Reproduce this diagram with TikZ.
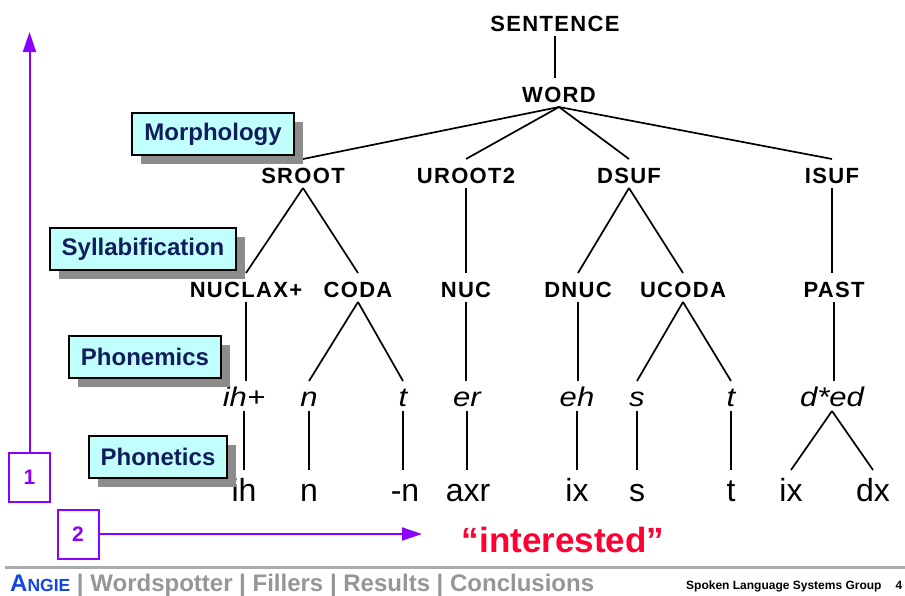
\documentclass[tikz,border=0pt]{standalone}
\usepackage{fontspec}
\setmainfont{Liberation Sans}
\newfontfamily\catfont[LetterSpace=6]{Liberation Sans}
\newfontfamily\phonemefont[FakeStretch=1.15]{Liberation Sans}
\usetikzlibrary{arrows.meta,shadows}

\definecolor{levelfill}{RGB}{192,255,252}
\definecolor{levelnavy}{RGB}{18,30,92}
\definecolor{shadowgray}{RGB}{140,140,140}
\definecolor{stepviolet}{RGB}{140,0,255}
\definecolor{wordred}{RGB}{255,0,51}
\definecolor{footgray}{RGB}{150,150,150}
\definecolor{angieblue}{RGB}{20,70,225}

\begin{document}
\begin{tikzpicture}[x=1pt,y=-1pt]

\tikzstyle{cat}=[font=\catfont\bfseries\fontsize{22}{22}\selectfont, inner sep=0pt, outer sep=5pt, text height=19pt, text depth=0pt, anchor=base]
\tikzstyle{phoneme}=[font=\phonemefont\itshape\fontsize{27}{27}\selectfont, inner sep=0pt, outer sep=5pt, text height=20pt, text depth=0pt, anchor=base]
\tikzstyle{phone}=[font=\fontsize{32}{32}\selectfont, inner sep=0pt, outer sep=5pt, text height=26pt, text depth=0pt, anchor=base]
\tikzstyle{branch}=[line width=1.7pt]
\tikzstyle{level}=[draw, line width=1.8pt, fill=levelfill, text=levelnavy, font=\bfseries\fontsize{24}{24}\selectfont, inner xsep=12pt, minimum height=42pt, drop shadow={shadow xshift=9pt, shadow yshift=-9pt, fill=shadowgray, opacity=1}]
\tikzstyle{stepbox}=[draw=stepviolet, line width=2pt, text=stepviolet, font=\bfseries\fontsize{21}{21}\selectfont, minimum width=41pt, minimum height=49pt]
\tikzstyle{steparrow}=[-{Triangle[length=20pt,width=13pt]}, line width=2pt, stepviolet]

\useasboundingbox (0,0) rectangle (905,595);

% categories
\node[cat] (sentence) at (555,31) {SENTENCE};
\node[cat] (word) at (559,102) {WORD};
\node[cat] (sroot) at (303,183) {SROOT};
\node[cat] (uroot) at (466,183) {UROOT2};
\node[cat] (dsuf) at (629,183) {DSUF};
\node[cat] (isuf) at (832,183) {ISUF};
\node[cat] (nuclax) at (246,297) {NUCLAX+};
\node[cat] (coda) at (358,297) {CODA};
\node[cat] (nuc) at (466,297) {NUC};
\node[cat] (dnuc) at (578,297) {DNUC};
\node[cat] (ucoda) at (683,297) {UCODA};
\node[cat] (past) at (834,297) {PAST};

% phonemes
\node[phoneme] (ihplus) at (244,406) {ih+};
\node[phoneme] (nph) at (309,406) {n};
\node[phoneme] (tph) at (403,406) {t};
\node[phoneme] (er) at (467,406) {er};
\node[phoneme] (eh) at (577,406) {eh};
\node[phoneme] (sph) at (637,406) {s};
\node[phoneme] (tsuf) at (731,406) {t};
\node[phoneme] (ded) at (832,406) {d*ed};

% phones
\node[phone] (ih) at (244,501) {ih};
\node[phone] (n) at (309,501) {n};
\node[phone] (nflap) at (405,501) {-n};
\node[phone] (axr) at (468,501) {axr};
\node[phone] (ix) at (577,501) {ix};
\node[phone] (s) at (637,501) {s};
\node[phone] (t) at (731,501) {t};
\node[phone] (ixpast) at (791,501) {ix};
\node[phone] (dx) at (873,501) {dx};

% branches
\draw[branch] (sentence.south) -- (sentence.south |- word.north);
\draw[branch] (word.south) -- (sroot.north);
\draw[branch] (word.south) -- (uroot.north);
\draw[branch] (word.south) -- (dsuf.north);
\draw[branch] (word.south) -- (isuf.north);
\draw[branch] (sroot.south) -- (nuclax.north);
\draw[branch] (sroot.south) -- (coda.north);
\draw[branch] (uroot.south) -- (uroot.south |- nuc.north);
\draw[branch] (dsuf.south) -- (dnuc.north);
\draw[branch] (dsuf.south) -- (ucoda.north);
\draw[branch] (isuf.south) -- (isuf.south |- past.north);
\draw[branch] (nuclax.south) -- (nuclax.south |- ihplus.north);
\draw[branch] (coda.south) -- (nph.north);
\draw[branch] (coda.south) -- (tph.north);
\draw[branch] (nuc.south) -- (nuc.south |- er.north);
\draw[branch] (dnuc.south) -- (dnuc.south |- eh.north);
\draw[branch] (ucoda.south) -- (sph.north);
\draw[branch] (ucoda.south) -- (tsuf.north);
\draw[branch] (past.south) -- (past.south |- ded.north);
\draw[branch] (ihplus.south) -- (ihplus.south |- ih.north);
\draw[branch] (nph.south) -- (nph.south |- n.north);
\draw[branch] (tph.south) -- (tph.south |- nflap.north);
\draw[branch] (er.south) -- (er.south |- axr.north);
\draw[branch] (eh.south) -- (eh.south |- ix.north);
\draw[branch] (sph.south) -- (sph.south |- s.north);
\draw[branch] (tsuf.south) -- (tsuf.south |- t.north);
\draw[branch] (ded.south) -- (ixpast.north);
\draw[branch] (ded.south) -- (dx.north);

% levels
\node[level] (morph) at (213,134) {Morphology};
\node[level] (syll) at (143,249) {Syllabification};
\node[level] (phonem) at (145,357) {Phonemics};
\node[level] (phonet) at (158,457) {Phonetics};

% steps
\node[stepbox] (one) at (29.5,477.5) {1};
\node[stepbox] (two) at (78,534) {2};
\coordinate (uptip) at (29.5,32);
\coordinate (righttip) at (422,534);
\draw[steparrow] (one) -- (uptip);
\draw[steparrow] (two) -- (righttip);

\node[font=\bfseries\fontsize{35}{35}\selectfont, text=wordred] (spelling) at (563,540) {“interested”};

% footer
\draw[line width=3pt, footgray!80] (5,567) -- (905,567);
\node[anchor=base west, inner sep=0pt, font=\bfseries\fontsize{24}{24}\selectfont] (navbar) at (10,591) {\textcolor{angieblue}{A{\fontsize{17.5}{17.5}\selectfont NGIE}} \textcolor{footgray}{| Wordspotter | Fillers | Results | Conclusions}};
\node[anchor=base west, inner sep=0pt, font=\bfseries\fontsize{12}{12}\selectfont] (group) at (686,589) {Spoken Language Systems Group};
\node[anchor=base, inner sep=0pt, font=\bfseries\fontsize{12}{12}\selectfont] (page) at (899,589) {4};

\end{tikzpicture}
\end{document}
